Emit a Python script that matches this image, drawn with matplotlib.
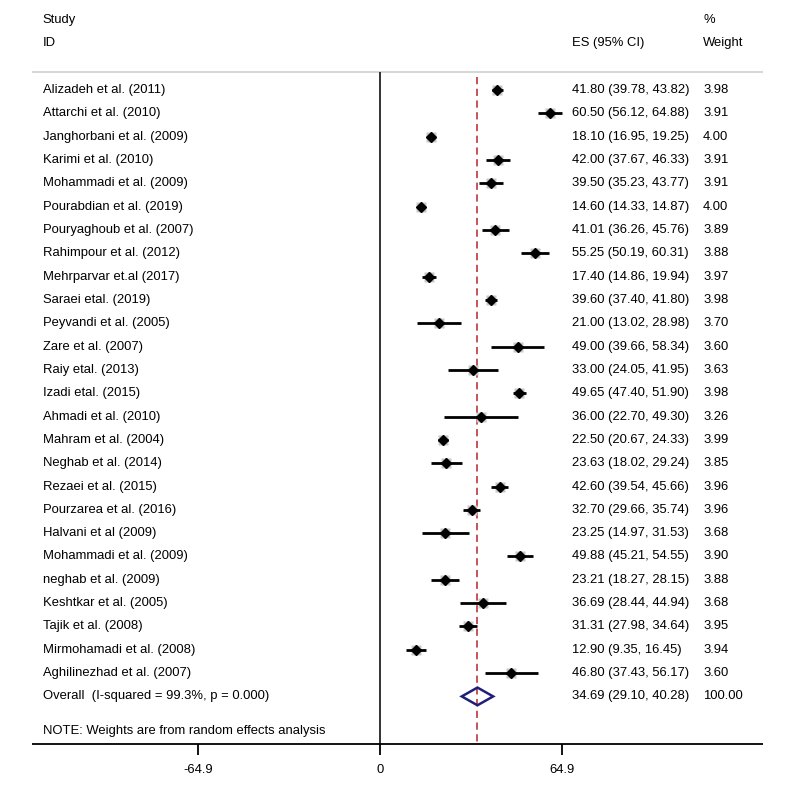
import numpy as np
import matplotlib
matplotlib.use('Agg')
import matplotlib.pyplot as plt
from matplotlib.patches import Polygon

studies = ['Alizadeh et al. (2011)', 'Attarchi et al. (2010)', 'Janghorbani et al. (2009)',
           'Karimi et al. (2010)', 'Mohammadi et al. (2009)', 'Pourabdian et al. (2019)',
           'Pouryaghoub et al. (2007)', 'Rahimpour et al. (2012)', 'Mehrparvar et.al (2017)',
           'Saraei etal. (2019)', 'Peyvandi et al. (2005)', 'Zare et al. (2007)',
           'Raiy etal. (2013)', 'Izadi etal. (2015)', 'Ahmadi et al. (2010)',
           'Mahram et al. (2004)', 'Neghab et al. (2014)', 'Rezaei et al. (2015)',
           'Pourzarea et al. (2016)', 'Halvani et al (2009)', 'Mohammadi et al. (2009)',
           'neghab et al. (2009)', 'Keshtkar et al. (2005)', 'Tajik et al. (2008)',
           'Mirmohamadi et al. (2008)', 'Aghilinezhad et al. (2007)']
es = [41.80, 60.50, 18.10, 42.00, 39.50, 14.60, 41.01, 55.25, 17.40, 39.60, 21.00, 49.00, 33.00,
      49.65, 36.00, 22.50, 23.63, 42.60, 32.70, 23.25, 49.88, 23.21, 36.69, 31.31, 12.90, 46.80]
lo = [39.78, 56.12, 16.95, 37.67, 35.23, 14.33, 36.26, 50.19, 14.86, 37.40, 13.02, 39.66, 24.05,
      47.40, 22.70, 20.67, 18.02, 39.54, 29.66, 14.97, 45.21, 18.27, 28.44, 27.98, 9.35, 37.43]
hi = [43.82, 64.88, 19.25, 46.33, 43.77, 14.87, 45.76, 60.31, 19.94, 41.80, 28.98, 58.34, 41.95,
      51.90, 49.30, 24.33, 29.24, 45.66, 35.74, 31.53, 54.55, 28.15, 44.94, 34.64, 16.45, 56.17]
weights = [3.98, 3.91, 4.00, 3.91, 3.91, 4.00, 3.89, 3.88, 3.97, 3.98, 3.70, 3.60, 3.63,
           3.98, 3.26, 3.99, 3.85, 3.96, 3.96, 3.68, 3.90, 3.88, 3.68, 3.95, 3.94, 3.60]
overall = (34.69, 29.10, 40.28)
overall_label = 'Overall  (I-squared = 99.3%, p = 0.000)'
xticks = [-64.9, 0, 64.9]

plt.rcParams['font.family'] = ['Liberation Sans', 'DejaVu Sans']
fs = 9.4

fig = plt.figure(figsize=(7.89, 7.89), dpi=100)
ax = fig.add_axes([0, 0, 1, 1])
ax.set_xlim(-135.28, 145.6)
ax.set_ylim(29.97, -3.86)
ax.axis('off')

n = len(studies)
rows = np.arange(n)
x_name, x_es, x_w = -120.1, 68.35, 115.0
x_left, x_right = -123.9, 136.4

# header
ax.text(x_name, -3.0, 'Study', fontsize=fs, va='center')
ax.text(x_name, -2.0, 'ID', fontsize=fs, va='center')
ax.text(x_es, -2.0, 'ES (95% CI)', fontsize=fs, va='center')
ax.text(x_w, -3.0, '%', fontsize=fs, va='center')
ax.text(x_w, -2.0, 'Weight', fontsize=fs, va='center')
ax.hlines(-0.77, x_left, x_right, color='#d0d0d0', lw=1.2)

# null line and overall line
ax.vlines(0, -0.77, 28.04, color='#222222', lw=1.3)
ax.vlines(overall[0], -0.55, 28.04, color='#c0474a', lw=1.3, linestyles=(0, (4, 2.5)))

# studies
for i in rows:
    ax.text(x_name, i, studies[i], fontsize=fs, va='center')
    ax.text(x_es, i, '%.2f (%.2f, %.2f)' % (es[i], lo[i], hi[i]), fontsize=fs, va='center')
    ax.text(x_w, i, '%.2f' % weights[i], fontsize=fs, va='center')
    ax.plot(es[i], i, marker='s', ms=7.5 * np.sqrt(weights[i] / 4.0), color='#c8c8c8',
            mec='none', zorder=2)
    ax.hlines(i, lo[i], hi[i], color='black', lw=2.0, zorder=3)
    ax.plot(es[i], i, marker='D', ms=5, color='black', zorder=4)

# overall diamond
r = n
dia = Polygon([[overall[1], r], [overall[0], r - 0.38], [overall[2], r], [overall[0], r + 0.38]],
              closed=True, fill=False, edgecolor='#1f1f7a', lw=1.8, zorder=4)
ax.add_patch(dia)
ax.text(x_name, r, overall_label, fontsize=fs, va='center')
ax.text(x_es, r, '%.2f (%.2f, %.2f)' % overall, fontsize=fs, va='center')
ax.text(x_w, r, '100.00', fontsize=fs, va='center')

ax.text(x_name, 27.5, 'NOTE: Weights are from random effects analysis', fontsize=fs, va='center')

# x axis
ax.hlines(28.04, x_left, x_right, color='black', lw=1.3)
for t in xticks:
    ax.vlines(t, 28.04, 28.5, color='black', lw=1.3)
    ax.text(t, 29.16, '%g' % t, fontsize=fs, ha='center', va='center')

fig.savefig('out.png', dpi=100)
